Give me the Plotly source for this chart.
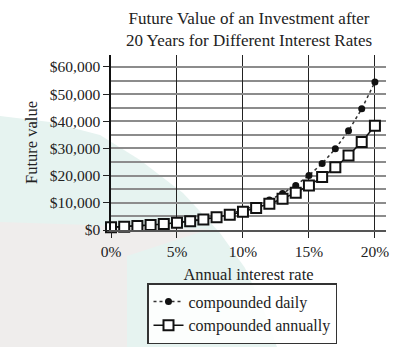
import plotly.graph_objects as go

rates = list(range(0, 21))
daily = [1000, 1221, 1492, 1822, 2225, 2718, 3319, 4054, 4951, 6047, 7384,
         9017, 11012, 13447, 16421, 20052, 24487, 29901, 36513, 44587, 54444]
annual = [1000, 1220, 1486, 1806, 2191, 2653, 3207, 3870, 4661, 5604, 6727,
          8062, 9646, 11523, 13743, 16367, 19461, 23106, 27393, 32429, 38338]
x_ticks = [0, 5, 10, 15, 20]
y_ticks = [0, 10000, 20000, 30000, 40000, 50000, 60000]
y_tick_labels = ["$0", "$10,000", "$20,000", "$30,000", "$40,000", "$50,000", "$60,000"]

W, H = 415, 347
L, R, T, B = 111, 29, 55, 117
PW, PH = W - L - R, H - T - B
FONT = "Liberation Serif, serif"
INK = "#222222"


def px(x, y):
    return ((x - L) / PW, (H - B - y) / PH)


def path(points):
    pts = [px(x, y) for x, y in points]
    s = "M %.4f,%.4f " % pts[0]
    for p in pts[1:]:
        s += "L %.4f,%.4f " % p
    return s + "Z"


teal_pts = [(0, 116), (50, 122), (100, 135), (140, 160), (183, 193), (220, 233),
            (245, 268), (262, 305), (277, 347), (0, 347)]
gray_pts = [(0, 222), (210, 229), (127, 256), (127, 347), (0, 347)]

fig = go.Figure()
fig.add_trace(go.Scatter(
    x=rates, y=daily, name="compounded daily", mode="lines+markers",
    line=dict(color="#333333", width=1.5, dash="dot"),
    marker=dict(symbol="circle", size=7, color="#111111"),
    cliponaxis=False))
fig.add_trace(go.Scatter(
    x=rates, y=annual, name="compounded annually", mode="lines+markers",
    line=dict(color="#111111", width=1.5),
    marker=dict(symbol="square", size=10, color="white",
                line=dict(color="#111111", width=2)),
    cliponaxis=False))

title_y = (H - B - 52) / PH
fig.update_layout(
    width=W, height=H,
    margin=dict(l=L, r=R, t=T, b=B, pad=0, autoexpand=False),
    paper_bgcolor="white", plot_bgcolor="rgba(0,0,0,0)",
    font=dict(family=FONT, size=15, color=INK),
    annotations=[dict(
        text="Future Value of an Investment after<br>20 Years for Different Interest Rates",
        xref="paper", yref="paper", x=0.5, y=title_y, xanchor="center", yanchor="bottom",
        showarrow=False, align="center",
        font=dict(family=FONT, size=17, color=INK))],
    shapes=[
        dict(type="path", path=path(teal_pts), xref="paper", yref="paper",
             fillcolor="#e6f3f0", line=dict(width=0), layer="below"),
        dict(type="path", path=path(gray_pts), xref="paper", yref="paper",
             fillcolor="#efedec", line=dict(width=0), layer="below"),
    ],
    legend=dict(x=(147 - L) / PW, xanchor="left", y=(H - B - 283) / PH, yanchor="top",
                bgcolor="rgba(255,255,255,0.85)", bordercolor="#333333", borderwidth=1.5,
                font=dict(family=FONT, size=16, color=INK), tracegroupgap=0,
                itemwidth=30),
    showlegend=True,
)

fig.update_xaxes(
    range=[0, 20.84], tickvals=x_ticks, ticktext=[f"{v}%" for v in x_ticks],
    showgrid=True, gridcolor="#222222", gridwidth=1,
    showline=True, linecolor="#555555", linewidth=2,
    ticks="outside", ticklen=6, tickcolor="#222222", tickwidth=1,
    automargin=False,
    zeroline=False,
    tickfont=dict(family=FONT, size=15.5, color=INK),
    title=dict(text="Annual interest rate", standoff=10,
               font=dict(family=FONT, size=16.5, color=INK)))
fig.update_yaxes(
    range=[0, 64400], tickvals=y_ticks, ticktext=y_tick_labels,
    showgrid=True, gridcolor="#8c8c8c", gridwidth=2,
    minor=dict(dtick=5000, tick0=0, showgrid=True, gridcolor="#8c8c8c", gridwidth=2),
    showline=True, linecolor="#111111", linewidth=1.5,
    ticks="outside", ticklen=6, tickcolor="#222222", tickwidth=1,
    automargin=False,
    zeroline=False,
    tickfont=dict(family=FONT, size=15.5, color=INK),
    title=dict(text="Future value", standoff=8,
               font=dict(family=FONT, size=16.5, color=INK)))

fig.write_html("out.html")
